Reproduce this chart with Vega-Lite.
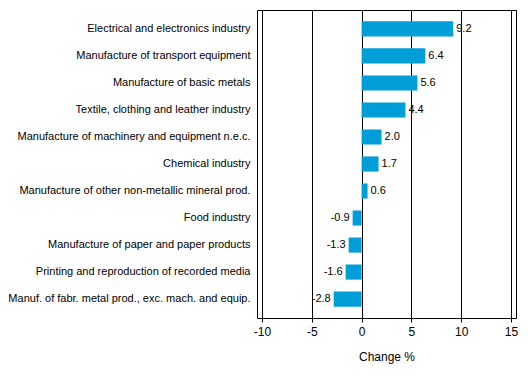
{
  "$schema": "https://vega.github.io/schema/vega-lite/v6.json",
  "autosize": "none",
  "width": 259,
  "height": 308,
  "padding": {"left": 257, "top": 10, "right": 13, "bottom": 59},
  "background": "white",
  "config": {
    "view": {"stroke": "black", "strokeWidth": 1},
    "font": "Liberation Sans",
    "locale": {
      "number": {
        "decimal": ".",
        "thousands": ",",
        "grouping": [3],
        "currency": ["$", ""],
        "minus": "-"
      }
    }
  },
  "data": {
    "values": [
      {"industry": "Electrical and electronics industry", "change": 9.2},
      {"industry": "Manufacture of transport equipment", "change": 6.4},
      {"industry": "Manufacture of basic metals", "change": 5.6},
      {"industry": "Textile, clothing and leather industry", "change": 4.4},
      {"industry": "Manufacture of machinery and equipment n.e.c.", "change": 2.0},
      {"industry": "Chemical industry", "change": 1.7},
      {"industry": "Manufacture of other non-metallic mineral prod.", "change": 0.6},
      {"industry": "Food industry", "change": -0.9},
      {"industry": "Manufacture of paper and paper products", "change": -1.3},
      {"industry": "Printing and reproduction of recorded media", "change": -1.6},
      {"industry": "Manuf. of fabr. metal prod., exc. mach. and equip.", "change": -2.8}
    ]
  },
  "encoding": {
    "y": {
      "field": "industry",
      "type": "nominal",
      "sort": null,
      "scale": {"paddingInner": 0.44, "paddingOuter": 0.42},
      "axis": {
        "title": null,
        "domain": false,
        "ticks": false,
        "labelPadding": 7,
        "labelFontSize": 11,
        "labelColor": "black",
        "labelLimit": 300
      }
    },
    "x": {
      "field": "change",
      "type": "quantitative",
      "scale": {"domain": [-10.5, 15.5], "nice": false, "zero": false},
      "axis": {
        "title": "Change %",
        "titleFontSize": 12,
        "titleFontWeight": "normal",
        "titleColor": "black",
        "titlePadding": 14,
        "values": [-10, -5, 0, 5, 10, 15],
        "format": "d",
        "grid": true,
        "gridColor": "black",
        "gridOpacity": 1,
        "gridWidth": 1,
        "domain": false,
        "tickColor": "black",
        "tickSize": 4,
        "labelFontSize": 12,
        "labelColor": "black",
        "labelPadding": 4
      }
    }
  },
  "layer": [
    {"mark": {"type": "bar", "color": "#009ED8"}},
    {
      "transform": [{"filter": "datum.change >= 0"}],
      "mark": {"type": "text", "align": "left", "dx": 3, "fontSize": 11, "color": "black"},
      "encoding": {"text": {"field": "change", "type": "quantitative", "format": ".1f"}}
    },
    {
      "transform": [{"filter": "datum.change < 0"}],
      "mark": {"type": "text", "align": "right", "dx": -3, "fontSize": 11, "color": "black"},
      "encoding": {"text": {"field": "change", "type": "quantitative", "format": ".1f"}}
    }
  ]
}
